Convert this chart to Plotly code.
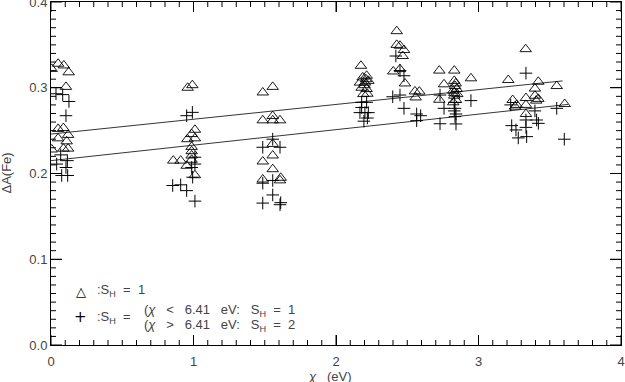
import plotly.graph_objects as go

# S_H = 1 (triangles)
tri_x = [0.005, 0.05, 0.09, 0.124, 0.105, 0.05, 0.087, 0.12, 0.05, 0.11, 0.087, 0.12, 0.005,
         0.959, 0.992, 1.01, 0.987, 0.957, 1.01, 0.987, 0.987, 0.987, 0.987, 0.858, 0.91, 0.952, 1.01,
         1.486, 1.556, 1.486, 1.556, 1.556, 1.607, 1.556, 1.556, 1.486, 1.556, 1.486, 1.607, 1.612,
         2.175, 2.187, 2.215, 2.168, 2.203, 2.227, 2.18, 2.215, 2.192, 2.22, 2.2, 2.21,
         2.426, 2.426, 2.449, 2.477, 2.468, 2.402, 2.449, 2.484,
         2.554, 2.585, 2.559, 2.725, 2.758, 2.725,
         2.83, 2.83, 2.835, 2.847, 2.823, 2.851, 2.83, 2.842, 2.823, 2.84, 2.83, 2.947,
         3.209, 3.331, 3.42, 3.396, 3.549, 3.333, 3.396, 3.42, 3.405, 3.24, 3.268, 3.256, 3.333, 3.333, 3.605]
tri_y = [0.322, 0.328, 0.326, 0.318, 0.301, 0.252, 0.253, 0.245, 0.241, 0.2375, 0.229, 0.229, 0.228,
         0.300, 0.303, 0.251, 0.246, 0.240, 0.241, 0.231, 0.226, 0.221, 0.216, 0.215, 0.215, 0.209, 0.198,
         0.2945, 0.301, 0.262, 0.267, 0.262, 0.262, 0.2345, 0.221, 0.214, 0.205, 0.193, 0.192, 0.195,
         0.3256, 0.312, 0.314, 0.306, 0.306, 0.308, 0.300, 0.2985, 0.2926, 0.293, 0.303, 0.31,
         0.366, 0.350, 0.349, 0.344, 0.337, 0.319, 0.3217, 0.305,
         0.2957, 0.2955, 0.2887, 0.320, 0.304, 0.286,
         0.320, 0.308, 0.302, 0.2985, 0.2965, 0.2926, 0.2907, 0.2857, 0.283, 0.305, 0.294, 0.311,
         0.309, 0.345, 0.307, 0.299, 0.302, 0.288, 0.2907, 0.287, 0.285, 0.2857, 0.280, 0.278, 0.280, 0.2694, 0.281]

# S_H = 1 / 2 split at 6.41 eV (plus signs)
plus_x = [0.035, 0.082, 0.126, 0.105, 0.068, 0.115, 0.04, 0.105, 0.075, 0.117,
          0.952, 0.992, 1.01, 1.01, 0.994, 0.854, 0.91, 0.952, 1.01, 0.987,
          1.556, 1.486, 1.607, 1.556, 1.486, 1.556, 1.486, 1.607, 1.612,
          2.18, 2.215, 2.18, 2.203, 2.168, 2.227, 2.196, 2.22,
          2.42, 2.449, 2.477, 2.398, 2.449, 2.477,
          2.566, 2.594, 2.566, 2.73, 2.73, 2.758,
          2.83, 2.835, 2.842, 2.835, 2.842, 2.83, 2.947,
          3.333, 3.226, 3.396, 3.549, 3.233, 3.263, 3.333, 3.333, 3.408, 3.42, 3.279, 3.338, 3.602]
plus_y = [0.293, 0.292, 0.284, 0.2674, 0.2217, 0.215, 0.211, 0.207, 0.1977, 0.1977,
          0.2674, 0.2713, 0.219, 0.211, 0.1957, 0.186, 0.1868, 0.180, 0.1678, 0.207,
          0.240, 0.2306, 0.2306, 0.1919, 0.1887, 0.175, 0.1655, 0.1636, 0.166,
          0.283, 0.283, 0.277, 0.271, 0.271, 0.271, 0.261, 0.2647,
          0.337, 0.320, 0.314, 0.2895, 0.2915, 0.276,
          0.2694, 0.2674, 0.2616, 0.2915, 0.258, 0.276,
          0.283, 0.276, 0.2694, 0.2663, 0.2578, 0.273, 0.285,
          0.317, 0.280, 0.273, 0.276, 0.2558, 0.2508, 0.2624, 0.2538, 0.2624, 0.2585, 0.2415, 0.243, 0.240]

# linear fits
fit_hi_x = [0.0, 3.59]
fit_hi_y = [0.246, 0.308]
fit_lo_x = [0.0, 3.63]
fit_lo_y = [0.215, 0.2806]

x_ticks = [0, 1, 2, 3, 4]
y_ticks = [0.0, 0.1, 0.2, 0.3, 0.4]
x_minor = [i / 10 for i in range(1, 40) if i % 10]
y_minor = [i / 100 for i in range(1, 40) if i % 10]

X_RANGE = [0, 4]
Y_RANGE = [0, 0.4]
PLOT_W, PLOT_H = 570, 343  # plot area in pixels

FONT = "Liberation Sans"
INK = "#444444"
SP = "\u00a0"

# data units per pixel, used to give the tick marks a fixed pixel length
ux = (X_RANGE[1] - X_RANGE[0]) / PLOT_W
uy = (Y_RANGE[1] - Y_RANGE[0]) / PLOT_H

tick_x, tick_y = [], []
for vals, length in ((x_ticks, 10), (x_minor, 5)):
    for v in vals:
        tick_x += [v, v, None, v, v, None]
        tick_y += [Y_RANGE[0], Y_RANGE[0] + length * uy, None,
                   Y_RANGE[1], Y_RANGE[1] - length * uy, None]
for vals, length in ((y_ticks, 11), (y_minor, 5)):
    for v in vals:
        tick_x += [X_RANGE[0], X_RANGE[0] + length * ux, None,
                   X_RANGE[1], X_RANGE[1] - length * ux, None]
        tick_y += [v, v, None, v, v, None]

fig = go.Figure()
fig.add_trace(go.Scatter(x=tick_x, y=tick_y, mode="lines", hoverinfo="skip",
                         line=dict(color="black", width=1)))
fig.add_trace(go.Scatter(x=fit_hi_x, y=fit_hi_y, mode="lines",
                         line=dict(color="black", width=0.8)))
fig.add_trace(go.Scatter(x=fit_lo_x, y=fit_lo_y, mode="lines",
                         line=dict(color="black", width=0.8)))
fig.add_trace(go.Scatter(x=tri_x, y=tri_y, mode="markers",
                         marker=dict(symbol="triangle-up-open", size=10, color="black",
                                     line=dict(width=0.9))))
fig.add_trace(go.Scatter(x=plus_x, y=plus_y, mode="markers",
                         marker=dict(symbol="cross-thin-open", size=9, color="black",
                                     line=dict(width=1, color="black"))))

fig.update_xaxes(range=X_RANGE, tickvals=x_ticks, ticks="inside", ticklen=10,
                 tickcolor="black", showline=True, linecolor="black", linewidth=1,
                 mirror="ticks", showgrid=False, zeroline=False, automargin=False,
                 ticklabeloverflow="allow", ticklabelstandoff=4,
                 tickfont=dict(family=FONT, size=13, color=INK))
fig.update_yaxes(range=Y_RANGE, tickvals=y_ticks, tickformat=".1f",
                 ticks="inside", ticklen=11,
                 tickcolor="black", showline=True, linecolor="black", linewidth=1,
                 mirror="ticks", showgrid=False, zeroline=False, automargin=False,
                 ticklabeloverflow="allow",
                 tickfont=dict(family=FONT, size=13, color=INK))

txt = dict(family=FONT, size=13, color=INK)
gap = SP * 3
annotations = [
    dict(text=f"<i>χ</i>{SP*3}(eV)", xref="paper", yref="paper", x=0.49, y=0, yshift=-31,
         yanchor="middle", showarrow=False, font=dict(family=FONT, size=13, color=INK)),
    dict(text="ΔA(Fe)", xref="paper", yref="paper", x=0, y=0.5, xshift=-45,
         xanchor="center", textangle=-90, showarrow=False,
         font=dict(family=FONT, size=13, color=INK)),
    dict(text="△", xref="paper", yref="paper", x=0.04, y=0.128, showarrow=False,
         font=dict(family="DejaVu Sans", size=13, color="black")),
    dict(text=f":S<sub>H</sub>{SP*2}={SP*2}1", xref="paper", yref="paper", x=0.078, y=0.128,
         xanchor="left", showarrow=False, font=txt),
    dict(text="+", xref="paper", yref="paper", x=0.036, y=0.051, showarrow=False,
         font=dict(family="DejaVu Sans", size=15, color="black")),
    dict(text=f":S<sub>H</sub>{SP*2}=", xref="paper", yref="paper", x=0.078, y=0.051,
         xanchor="left", showarrow=False, font=txt),
    dict(text=f"(<i>χ</i>{gap}<{gap}6.41{gap}eV:{gap}S<sub>H</sub>{SP*2}={SP*2}1",
         xref="paper", yref="paper", x=0.159, y=0.069, xanchor="left", showarrow=False,
         font=txt),
    dict(text=f"(<i>χ</i>{gap}>{gap}6.41{gap}eV:{gap}S<sub>H</sub>{SP*2}={SP*2}2",
         xref="paper", yref="paper", x=0.159, y=0.025, xanchor="left", showarrow=False,
         font=txt),
]

fig.update_layout(
    width=625, height=382,
    margin=dict(l=51, r=4, t=2, b=37),
    paper_bgcolor="white", plot_bgcolor="white",
    font=dict(family=FONT, size=13, color=INK),
    showlegend=False,
    annotations=annotations,
)

# the page's default body margin would push the figure off the window
fig.write_html("out.html", post_script="document.body.style.margin = '0';",
               config={"displayModeBar": False})
